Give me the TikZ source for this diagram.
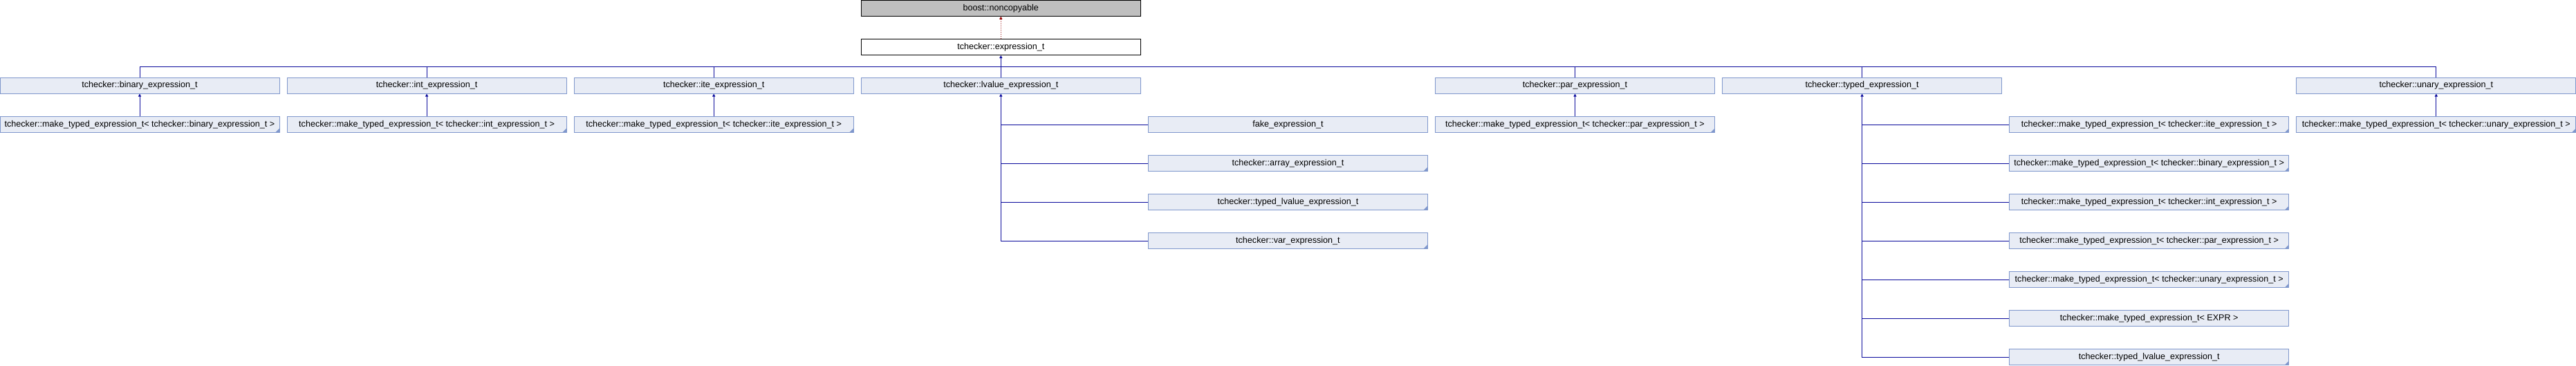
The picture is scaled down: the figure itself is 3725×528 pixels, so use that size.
\documentclass[tikz,border=0pt]{standalone}
\usepackage{fontspec}
\setmainfont{Liberation Sans}
\usetikzlibrary{arrows.meta,positioning}

\definecolor{boxfill}{HTML}{E8ECF5}
\definecolor{boxline}{HTML}{7F97CC}
\definecolor{inhblue}{HTML}{0A0A9C}
\definecolor{privred}{HTML}{9C0A0A}
\definecolor{basegray}{HTML}{BFBFBF}

\tikzset{
  cls/.style={draw=boxline,fill=boxfill,line width=1pt,minimum width=404pt,
    minimum height=23pt,inner sep=0pt,font=\fontsize{12.6}{14}\selectfont},
  trunc/.style={path picture={\fill[boxline] (path picture bounding box.south east)
    -- ++(-6pt,0pt) -- ++(6pt,6pt) -- cycle;}},
  inh/.style={inhblue,line width=1pt,-{Triangle[length=4pt,width=4pt]}},
  link/.style={inhblue,line width=1pt},
}

\begin{document}
\begin{tikzpicture}[x=1pt,y=-1pt]
	\useasboundingbox (0,0) rectangle (3725,528);

	% bases
	\node[cls,draw=black,fill=basegray] (noncopy) at (1447.3,11.75) {boost::noncopyable};
	\node[cls,draw=black,fill=white] (expr) at (1447.3,68) {tchecker::expression\_t};

	% direct children
	\node[cls] (binexpr) at (202,123.5) {tchecker::binary\_expression\_t};
	\node[cls] (intexpr) at (617.1,123.5) {tchecker::int\_expression\_t};
	\node[cls] (iteexpr) at (1032.2,123.5) {tchecker::ite\_expression\_t};
	\node[cls] (lvalexpr) at (1447.3,123.5) {tchecker::lvalue\_expression\_t};
	\node[cls] (parexpr) at (2277.5,123.5) {tchecker::par\_expression\_t};
	\node[cls] (typedexpr) at (2692.6,123.5) {tchecker::typed\_expression\_t};
	\node[cls] (unaryexpr) at (3522.8,123.5) {tchecker::unary\_expression\_t};

	% make_typed_expression_t below each
	\node[cls,trunc] (mkbin) at (202,180) {tchecker::make\_typed\_expression\_t< tchecker::binary\_expression\_t >};
	\node[cls,trunc] (mkint) at (617.1,180) {tchecker::make\_typed\_expression\_t< tchecker::int\_expression\_t >};
	\node[cls,trunc] (mkite) at (1032.2,180) {tchecker::make\_typed\_expression\_t< tchecker::ite\_expression\_t >};
	\node[cls,trunc] (mkpar) at (2277.5,180) {tchecker::make\_typed\_expression\_t< tchecker::par\_expression\_t >};
	\node[cls,trunc] (mkunary) at (3522.8,180) {tchecker::make\_typed\_expression\_t< tchecker::unary\_expression\_t >};

	% lvalue children
	\node[cls] (fake) at (1862.4,180) {fake\_expression\_t};
	\node[cls,trunc] (array) at (1862.4,236) {tchecker::array\_expression\_t};
	\node[cls,trunc] (tlvalA) at (1862.4,292) {tchecker::typed\_lvalue\_expression\_t};
	\node[cls,trunc] (var) at (1862.4,348) {tchecker::var\_expression\_t};

	% typed children
	\node[cls,trunc] (tmkite) at (3107.7,180) {tchecker::make\_typed\_expression\_t< tchecker::ite\_expression\_t >};
	\node[cls,trunc] (tmkbin) at (3107.7,236) {tchecker::make\_typed\_expression\_t< tchecker::binary\_expression\_t >};
	\node[cls,trunc] (tmkint) at (3107.7,292) {tchecker::make\_typed\_expression\_t< tchecker::int\_expression\_t >};
	\node[cls,trunc] (tmkpar) at (3107.7,348) {tchecker::make\_typed\_expression\_t< tchecker::par\_expression\_t >};
	\node[cls,trunc] (tmkunary) at (3107.7,404) {tchecker::make\_typed\_expression\_t< tchecker::unary\_expression\_t >};
	\node[cls] (tmkexpr) at (3107.7,460) {tchecker::make\_typed\_expression\_t< EXPR >};
	\node[cls,trunc] (tlvalB) at (3107.7,516) {tchecker::typed\_lvalue\_expression\_t};

	% connectors
	\draw[privred,line width=1pt,dash pattern=on 1.5pt off 1.5pt,-{Triangle[length=4pt,width=4pt]}] (expr) -- (noncopy);

	\coordinate (bus) at (1447.3,96);
	\draw[inh] (bus) -- (expr.south);
	\foreach \n in {binexpr,intexpr,iteexpr,lvalexpr,parexpr,typedexpr,unaryexpr}
		\draw[link] (\n.north) |- (bus);

	\foreach \a/\b in {mkbin/binexpr,mkint/intexpr,mkite/iteexpr,mkpar/parexpr,mkunary/unaryexpr}
		\draw[inh] (\a) -- (\b);

	\draw[inh] (var.west) -| (lvalexpr.south);
	\foreach \n in {fake,array,tlvalA}
		\draw[link] (\n.west) -- (\n.west -| lvalexpr.south);

	\draw[inh] (tlvalB.west) -| (typedexpr.south);
	\foreach \n in {tmkite,tmkbin,tmkint,tmkpar,tmkunary,tmkexpr}
		\draw[link] (\n.west) -- (\n.west -| typedexpr.south);

\end{tikzpicture}
\end{document}
